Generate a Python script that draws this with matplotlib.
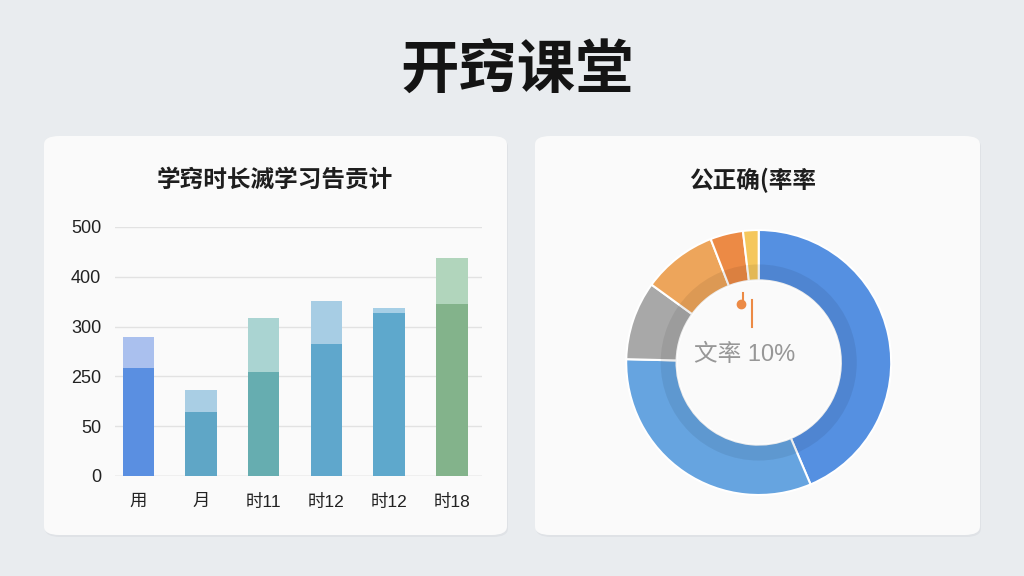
import numpy as np
import matplotlib
matplotlib.use("Agg")
import matplotlib.pyplot as plt
from matplotlib.patches import FancyBboxPatch

plt.rcParams['font.family'] = ['Noto Sans CJK SC', 'DejaVu Sans']
latin_first = ['Liberation Sans', 'Noto Sans CJK SC']

# bar chart data
categories = ['用', '月', '时11', '时12', '时12', '时18']
dark_vals = [258, 108, 254, 283, 327, 346]
total_vals = [290, 196, 317, 351, 338, 437]
dark_colors = ['#5a8fe1', '#5fa6c6', '#66adb0', '#5fa7cc', '#5ea8cc', '#83b38b']
light_colors = ['#aac0ee', '#a9cee4', '#aad4d2', '#a7cde4', '#a6cfe6', '#b1d5bc']
tick_vals = [0, 50, 250, 300, 400, 500]

# donut data
pie_vals = [43.6, 31.8, 9.6, 9.1, 4.0, 1.9]
pie_colors = ['#5590e1', '#66a4e0', '#a8a8a8', '#eda55b', '#ec8a45', '#f5c75c']
center_label = '文率 10%'

# little orange pin inside the donut
pin_x = [-0.13]
pin_y = [0.445]

W, H = 1024, 576
fig = plt.figure(figsize=(W / 100, H / 100), dpi=100)
fig.patch.set_facecolor('#e9ecef')


def fx(px):
    return px / W


def fy(py):
    return 1 - py / H


# cards
for x0, x1 in [(44, 507), (535, 980)]:
    shadow = FancyBboxPatch((fx(x0 + 1), fy(537)), fx(x1 - x0), (535 - 136) / H,
                            boxstyle="round,pad=0,rounding_size=0.015",
                            transform=fig.transFigure, facecolor='#dfe2e6',
                            edgecolor='none', zorder=-10)
    card = FancyBboxPatch((fx(x0), fy(535)), fx(x1 - x0), (535 - 136) / H,
                          boxstyle="round,pad=0,rounding_size=0.015",
                          transform=fig.transFigure, facecolor='#fafafa',
                          edgecolor='none', zorder=-9)
    fig.patches.append(shadow)
    fig.patches.append(card)

fig.text(fx(517), fy(72), '开窍课堂', ha='center', va='center',
         fontsize=42, fontweight='bold', color='#141414')
fig.text(fx(275), fy(180), '学窍时长滅学习告贡计', ha='center', va='center',
         fontsize=17, fontweight='bold', color='#1e1e1e')
fig.text(fx(753), fy(180), '公正确(率率', ha='center', va='center',
         fontsize=17, fontweight='bold', color='#1e1e1e')

# ---- bar chart ----
ax = fig.add_axes([fx(115), fy(476), fx(482 - 115), (476 - 227) / H])
ax.set_facecolor('none')
pos = np.arange(len(tick_vals))


def fwd(v):
    return np.interp(v, tick_vals, pos)


def inv(p):
    return np.interp(p, pos, tick_vals)


ax.set_yscale('function', functions=(fwd, inv))
x = np.arange(len(categories))
dark = np.array(dark_vals)
total = np.array(total_vals)
ax.bar(x, dark, width=0.5, color=dark_colors, zorder=3)
ax.bar(x, total - dark, bottom=dark, width=0.5, color=light_colors, zorder=3)
ax.set_ylim(0, 500)
ax.set_xlim(-0.37, 5.48)
ax.set_yticks(tick_vals)
ax.set_yticklabels([str(v) for v in tick_vals], family=latin_first)
ax.set_xticks(x)
ax.set_xticklabels(categories, family=latin_first)
ax.grid(axis='y', color='#e2e2e2', linewidth=1, zorder=0)
for s in ax.spines.values():
    s.set_visible(False)
ax.axhline(0, color='#d8d8d8', linewidth=1, zorder=1)
ax.tick_params(axis='y', length=0, pad=10, labelsize=13, labelcolor='#222222')
ax.tick_params(axis='x', length=0, pad=13, labelsize=12.5, labelcolor='#222222')

# ---- donut ----
r_px = 132.5
lim = 1.02
side = 2 * r_px * lim
cx, cy = 758.7, 362.5
ax2 = fig.add_axes([fx(cx - side / 2), fy(cy + side / 2), fx(side), side / H])
ax2.pie(pie_vals, colors=pie_colors, startangle=90, counterclock=False,
        wedgeprops=dict(width=0.38, edgecolor='white', linewidth=1.5))
ax2.pie([1], colors=['black'], radius=0.74,
        wedgeprops=dict(width=0.12, alpha=0.07, linewidth=0))
ax2.set_xlim(-lim, lim)
ax2.set_ylim(-lim, lim)
ax2.set_aspect('equal')
ax2.text(-0.11, 0.055, center_label, ha='center', va='center',
         fontsize=17, color='#8c8c8c', alpha=0.9, family=latin_first)
ax2.plot(pin_x, pin_y, 'o', color='#ec8a45', markersize=6)
ax2.plot([pin_x[0] + 0.01, pin_x[0] + 0.01], [pin_y[0], pin_y[0] + 0.08],
         color='#ec8a45', linewidth=1.5)
ax2.plot([pin_x[0] + 0.077, pin_x[0] + 0.077], [pin_y[0] + 0.03, pin_y[0] - 0.18],
         color='#ec8a45', linewidth=1.5)

fig.savefig('out.png', dpi=100, facecolor=fig.get_facecolor())
